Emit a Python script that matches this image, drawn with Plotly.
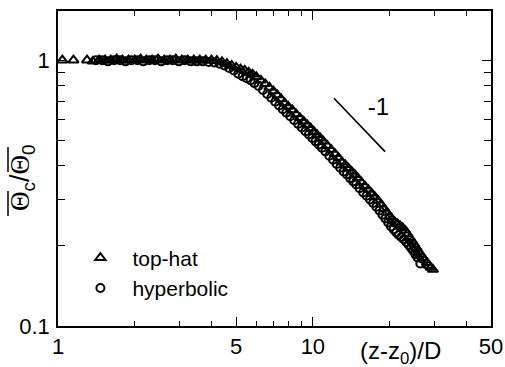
import plotly.graph_objects as go

# ---- data ----
tophat_x = [1.04, 1.15, 1.30, 1.37, 1.45, 1.53, 1.61, 1.70, 1.79, 1.89,
            2.00, 2.11, 2.22, 2.34, 2.47, 2.61, 2.75, 2.90, 3.06, 3.23,
            3.41, 3.60, 3.80, 4.00, 4.20, 4.40, 4.60, 4.80, 5.00, 5.20,
            5.40, 5.60, 5.80, 6.00, 6.25, 6.50, 6.75, 7.00, 7.25, 7.50,
            7.75, 8.00, 8.30, 8.60, 8.90, 9.20, 9.50, 9.80, 10.1, 10.4,
            10.7, 11.0, 11.4, 11.8, 12.2, 12.6, 13.0, 13.4, 13.8, 14.2,
            14.6, 15.0, 15.5, 16.0, 16.5, 17.0, 17.5, 18.0, 18.5, 19.0,
            19.5, 20.0, 20.5, 21.0, 21.5, 22.0, 22.5, 23.0, 23.5, 24.0,
            24.5, 25.0, 25.5, 26.0, 26.5, 27.0, 27.5, 28.0, 28.5, 29.0, 29.6]
tophat_y = [1.00, 1.00, 1.00, 0.99, 1.00, 1.00, 1.00, 1.01, 1.00, 1.00,
            1.00, 1.01, 1.00, 1.00, 1.01, 1.00, 1.00, 1.01, 1.00, 1.00,
            1.00, 1.00, 1.00, 1.00, 0.995, 0.985, 0.97, 0.955, 0.94, 0.925,
            0.915, 0.90, 0.885, 0.865, 0.84, 0.815, 0.79, 0.765, 0.74, 0.715,
            0.69, 0.67, 0.65, 0.627, 0.607, 0.589, 0.571, 0.555, 0.538, 0.524,
            0.509, 0.495, 0.477, 0.461, 0.445, 0.43, 0.414, 0.404, 0.392, 0.381,
            0.371, 0.36, 0.348, 0.336, 0.326, 0.316, 0.306, 0.297, 0.287, 0.277,
            0.268, 0.259, 0.252, 0.246, 0.242, 0.238, 0.234, 0.229, 0.222, 0.215,
            0.209, 0.203, 0.197, 0.191, 0.186, 0.181, 0.177, 0.173, 0.169, 0.166, 0.163]

hyper_x = [1.41, 1.49, 1.57, 1.66, 1.75, 1.84, 1.94, 2.05, 2.16, 2.28,
           2.40, 2.54, 2.68, 2.82, 2.98, 3.14, 3.32, 3.50, 3.70, 3.90,
           4.10, 4.30, 4.50, 4.70, 4.90, 5.10, 5.30, 5.50, 5.70, 5.90,
           6.12, 6.37, 6.62, 6.87, 7.12, 7.37, 7.62, 7.87, 8.15, 8.45,
           8.75, 9.05, 9.35, 9.65, 9.95, 10.25, 10.55, 10.85, 11.2, 11.6,
           12.0, 12.4, 12.8, 13.2, 13.6, 14.0, 14.4, 14.8, 15.25, 15.75,
           16.25, 16.75, 17.25, 17.75, 18.25, 18.75, 19.25, 19.75, 20.25, 20.75,
           21.25, 21.75, 22.25, 22.75, 23.25, 23.75, 24.25, 24.75, 25.25, 25.75, 26.4]
hyper_y = [1.00, 1.00, 0.99, 1.00, 1.00, 0.99, 1.00, 1.00, 0.99, 1.00,
           1.00, 0.99, 1.00, 1.00, 0.99, 1.00, 0.99, 0.99, 0.99, 0.985,
           0.98, 0.97, 0.955, 0.935, 0.915, 0.89, 0.87, 0.855, 0.84, 0.82,
           0.80, 0.772, 0.746, 0.722, 0.698, 0.675, 0.654, 0.635, 0.615, 0.594,
           0.576, 0.558, 0.54, 0.525, 0.51, 0.495, 0.482, 0.468, 0.454, 0.437,
           0.422, 0.407, 0.394, 0.381, 0.372, 0.36, 0.35, 0.341, 0.33, 0.318,
           0.309, 0.299, 0.29, 0.281, 0.272, 0.262, 0.254, 0.245, 0.237, 0.231,
           0.225, 0.22, 0.216, 0.212, 0.207, 0.202, 0.197, 0.192, 0.186, 0.181, 0.172]

slope_x = [12.1, 19.2]
slope_y = [0.719, 0.453]
slope_label = "-1"
slope_label_pos = (18.1, 0.654)

x_tickvals = [1, 5, 10, 50]
x_ticktext = ["1", "5", "10", "50"]
x_minor = [2, 3, 4, 6, 7, 8, 9, 20, 30, 40]
y_tickvals = [0.1, 1]
y_ticktext = ["0.1", "1"]
y_minor = [0.2, 0.3, 0.4, 0.5, 0.6, 0.7, 0.8, 0.9]

FONT = "Liberation Sans, Arial, sans-serif"
SERIF = "Liberation Serif, Times New Roman, serif"

W, H = 505, 367
L, R, T, B = 58, 14, 11, 41
PW, PH = W - L - R, H - T - B


def px(x):  # pixel -> paper x
    return (x - L) / PW


def py(y):  # pixel -> paper y
    return (H - B - y) / PH


fig = go.Figure()
fig.add_trace(go.Scatter(
    x=tophat_x, y=tophat_y, mode="markers", name="top-hat",
    marker=dict(symbol="triangle-up-open", size=9, color="black",
                line=dict(width=2, color="black"))))
fig.add_trace(go.Scatter(
    x=hyper_x, y=hyper_y, mode="markers", name="hyperbolic",
    marker=dict(symbol="circle-open", size=8, color="black",
                line=dict(width=2, color="black"))))
fig.add_trace(go.Scatter(
    x=slope_x, y=slope_y, mode="lines", showlegend=False,
    line=dict(color="black", width=1.6)))
fig.add_trace(go.Scatter(
    x=[slope_label_pos[0]], y=[slope_label_pos[1]], mode="text",
    text=[slope_label], showlegend=False,
    textfont=dict(family=FONT, size=24, color="black")))

fig.update_layout(
    width=W, height=H,
    margin=dict(l=L, r=R, t=T, b=B, autoexpand=False),
    paper_bgcolor="white", plot_bgcolor="white",
    font=dict(family=FONT, size=22, color="black"),
    showlegend=True,
    legend=dict(x=0.024, y=0.281, xanchor="left", yanchor="top",
                bgcolor="rgba(0,0,0,0)", font=dict(size=21),
                itemwidth=54, tracegroupgap=0),
)
fig.update_xaxes(
    type="log", range=[0, 1.69897], automargin=False,
    tickmode="array", tickvals=x_tickvals, ticktext=x_ticktext,
    ticks="inside", ticklen=9, tickwidth=1.3, tickcolor="black",
    showline=True, linewidth=1.6, linecolor="black", mirror="allticks",
    showgrid=False, zeroline=False,
    tickfont=dict(size=22),
    minor=dict(tickmode="array", tickvals=x_minor, ticks="inside",
               ticklen=5, tickwidth=1.2, tickcolor="black", showgrid=False),
)
fig.update_yaxes(
    type="log", range=[-1, 0.185], automargin=False,
    tickmode="array", tickvals=y_tickvals, ticktext=y_ticktext,
    ticks="inside", ticklen=9, tickwidth=1.3, tickcolor="black",
    showline=True, linewidth=1.6, linecolor="black", mirror="allticks",
    showgrid=False, zeroline=False,
    tickfont=dict(size=22), ticklabelstandoff=2,
    minor=dict(tickmode="array", tickvals=y_minor, ticks="inside",
               ticklen=7, tickwidth=1.2, tickcolor="black", showgrid=False),
)

# axis titles
fig.add_annotation(
    text="(z-z<sub>0</sub>)/D", xref="paper", yref="paper",
    x=px(400), y=py(352), xanchor="center", yanchor="middle",
    showarrow=False, font=dict(family=FONT, size=24, color="black"))
fig.add_annotation(
    text=f"<span style='font-family:{SERIF}'>\u0398</span><sub>c</sub>/"
         f"<span style='font-family:{SERIF}'>\u0398</span><sub>0</sub>",
    xref="paper", yref="paper",
    x=px(22), y=py(178), xanchor="center", yanchor="middle",
    textangle=-90, showarrow=False, font=dict(family=FONT, size=27, color="black"))
# overbars of the rotated title
for y0, y1 in [(147, 172), (191, 216)]:
    fig.add_shape(type="line", xref="paper", yref="paper",
                  x0=px(8), x1=px(8), y0=py(y0), y1=py(y1),
                  line=dict(color="black", width=1.5))

fig.write_html("out.html", config={"displayModeBar": False},
               post_script="document.body.style.margin='0px';")
